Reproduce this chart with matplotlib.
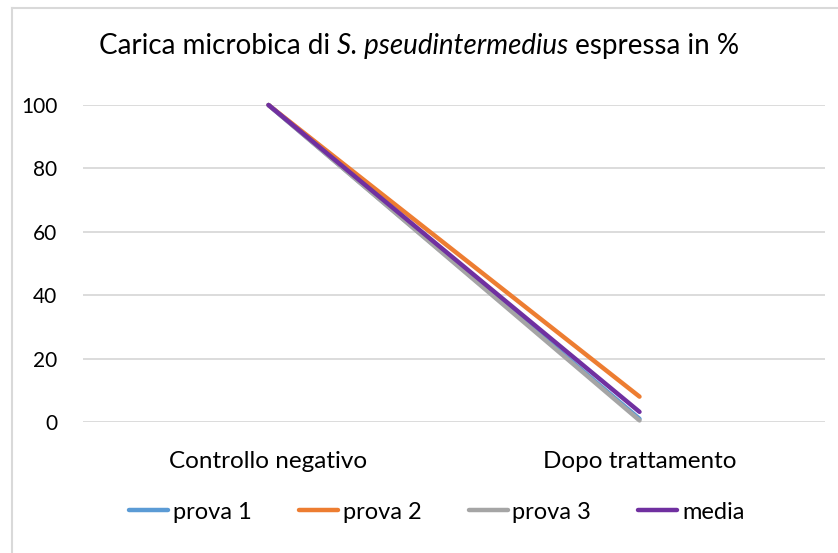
import matplotlib
matplotlib.use("Agg")
import matplotlib.pyplot as plt
from matplotlib.lines import Line2D

plt.rcParams['font.family'] = ['Lato', 'DejaVu Sans']

# Data
categories = ['Controllo negativo', 'Dopo trattamento']
series_names = ['prova 1', 'prova 2', 'prova 3', 'media']
prova1 = [100, 1]
prova2 = [100, 8]
prova3 = [100, 0.5]
media = [100, 3.2]
colors = ['#5b9bd5', '#ed7d31', '#a5a5a5', '#7030a0']
yticks = [0, 20, 40, 60, 80, 100]

fig = plt.figure(figsize=(8.38, 5.53), dpi=100)
ax = fig.add_axes([83 / 838, 1 - 422 / 553, 742 / 838, 317 / 553])

x = [0, 1]
for name, vals, c in zip(series_names, [prova1, prova2, prova3, media], colors):
    ax.plot(x, vals, color=c, lw=3.2, solid_capstyle='round', label=name,
            clip_on=False, zorder=3)

ax.set_xlim(-0.5, 1.5)
ax.set_ylim(0, 100)
ax.set_yticks(yticks)
ax.set_xticks(x)
ax.set_xticklabels(categories)
ax.grid(axis='y', color='#d9d9d9', lw=1.3)
ax.set_axisbelow(True)
for s in ax.spines.values():
    s.set_visible(False)
ax.tick_params(length=0, labelcolor='#000000')
ax.tick_params(axis='y', labelsize=15, pad=18.5)
ax.tick_params(axis='x', labelsize=17.5, pad=21)

# Title with italic species name
renderer = fig.canvas.get_renderer()
parts = [('Carica microbica di ', 'normal'), ('S. pseudintermedius', 'italic'),
         (' espressa in %', 'normal')]
texts = []
for txt, style in parts:
    t = fig.text(0, 1 - 46 / 553, txt, fontsize=20, style=style, va='center', ha='left')
    texts.append(t)
widths = [t.get_window_extent(renderer).width for t in texts]
total = sum(widths)
xpos = 419 - total / 2
for t, w in zip(texts, widths):
    t.set_x(xpos / 838)
    xpos += w

# Legend
ax.legend(loc='center', bbox_to_anchor=((437 - 83) / 742, -0.284), bbox_transform=ax.transAxes,
          ncol=4, frameon=False, fontsize=17, handlelength=1.65, handletextpad=0.2,
          columnspacing=2.0)

# Chart frame
fig.add_artist(Line2D([12 / 838, 12 / 838], [0, 1 - 8 / 553], transform=fig.transFigure,
                      color='#d9d9d9', lw=1.5))
fig.add_artist(Line2D([12 / 838, 1], [1 - 8 / 553, 1 - 8 / 553], transform=fig.transFigure,
                      color='#d9d9d9', lw=1.5))

fig.savefig('out.png', dpi=100)
